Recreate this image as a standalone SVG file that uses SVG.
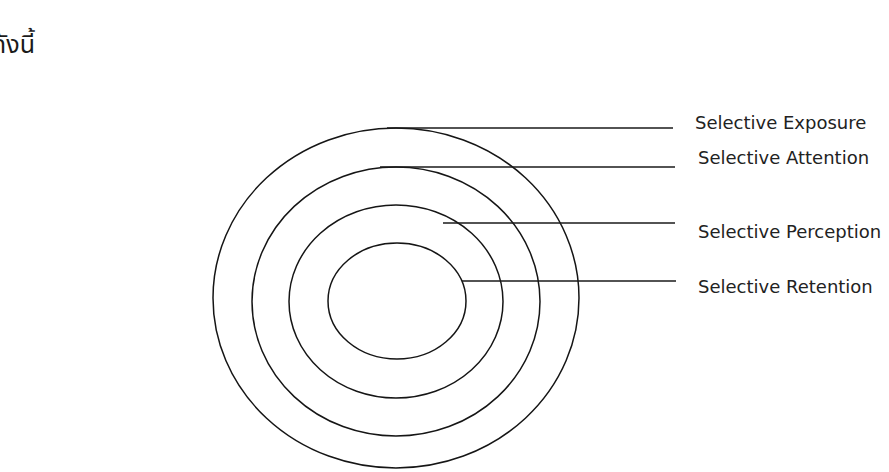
<svg xmlns="http://www.w3.org/2000/svg" width="889" height="472" viewBox="0 0 889 472">
<style>
.ring{fill:none;stroke:#151515;stroke-width:1.5}
.conn{stroke:#1a1a1a;stroke-width:1.3;fill:none}
.lbl{font-family:"DejaVu Sans","Liberation Sans",sans-serif;font-size:18px;fill:#222222}
.thai{font-family:"Noto Sans Thai","Noto Sans","DejaVu Sans",sans-serif;font-size:25px;fill:#1a1a1a}
</style>
<rect width="889" height="472" fill="#ffffff"/>
<g id="heading">
<text class="thai" x="35" y="53" text-anchor="end">ดังนี้</text>
</g>
<g id="ring-exposure"><ellipse class="ring" cx="396" cy="298" rx="183" ry="170"/></g>
<g id="ring-attention"><ellipse class="ring" cx="396" cy="301.5" rx="144" ry="134.5"/></g>
<g id="ring-perception"><ellipse class="ring" cx="396" cy="301.5" rx="107" ry="96.5"/></g>
<g id="ring-retention"><ellipse class="ring" cx="397" cy="301" rx="69" ry="58"/></g>
<g id="connectors">
<line class="conn" x1="387" y1="128" x2="673" y2="128"/>
<line class="conn" x1="380" y1="167" x2="675" y2="167"/>
<line class="conn" x1="443" y1="223" x2="675" y2="223"/>
<line class="conn" x1="462" y1="281" x2="676" y2="281"/>
</g>
<g id="label-exposure"><text class="lbl" x="695" y="129">Selective Exposure</text></g>
<g id="label-attention"><text class="lbl" x="698" y="164">Selective Attention</text></g>
<g id="label-perception"><text class="lbl" x="698" y="238">Selective Perception</text></g>
<g id="label-retention"><text class="lbl" x="698" y="293">Selective Retention</text></g>
</svg>
